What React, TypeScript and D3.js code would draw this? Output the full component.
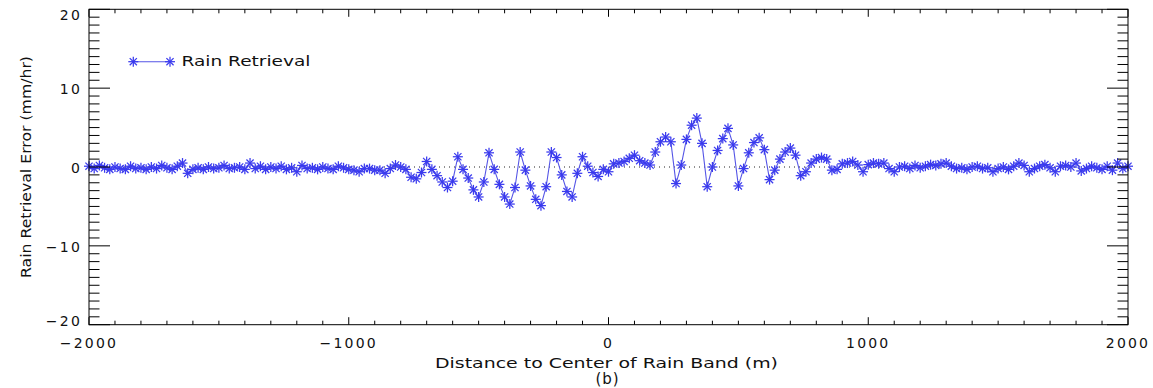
import React from "react";
import * as d3 from "d3";

// Retrieval error sampled every 20 m across the band.
const SAMPLE_START = -2000;
const SAMPLE_STEP = 20;

// -2000 m .. -1000 m
const leftTail = [
  0.1, -0.2, 0.2, -0.1, -0.3, 0.0, -0.2, -0.3, 0.1, -0.2,
  -0.1, -0.3, 0.0, -0.2, 0.2, -0.1, -0.3, 0.1, 0.5, -0.8,
  -0.3, -0.1, -0.3, 0.0, -0.2, -0.1, 0.2, -0.2, -0.1, 0.0,
  -0.3, 0.5, -0.2, 0.1, -0.3, 0.0, -0.2, 0.1, -0.3, -0.1,
  -0.6, 0.2, -0.2, -0.1, -0.3, 0.0, -0.2, -0.3, 0.1, -0.1,
  -0.3,
];

// -980 m .. 980 m
const bandCore = [
  -0.4, -0.6, -0.2, -0.2, -0.4, -0.4, -0.8, -0.2, 0.25, 0.0,
  -0.3, -1.3, -1.5, -0.7, 0.7, -0.3, -1.1, -1.9, -2.6, -1.8,
  1.3, -0.3, -1.4, -2.9, -3.8, -1.9, 1.8, -0.3, -2.2, -3.8,
  -4.7, -2.6, 1.9, -0.4, -2.4, -4.1, -4.9, -2.5, 1.9, 1.2,
  -1.0, -3.1, -3.8, -0.8, 1.3, 0.1, -0.7, -1.2, -0.3, -0.6,
  0.4, 0.5, 0.7, 1.1, 1.5, 0.8, 0.5, 0.25, 1.9, 3.2,
  3.8, 3.2, -2.1, 0.25, 3.5, 5.3, 6.2, 3.0, -2.5, 0.0,
  2.1, 3.6, 4.9, 2.8, -2.4, -0.2, 1.8, 3.1, 3.7, 2.2,
  -1.6, -0.4, 1.0, 1.9, 2.4, 1.5, -1.1, -0.6, 0.5, 1.0,
  1.2, 1.0, -0.4, -0.3, 0.4, 0.5, 0.7, 0.25, -0.6,
];

// 1000 m .. 2000 m
const rightTail = [
  0.3, 0.5, 0.4, 0.5, -0.2, -0.6, 0.0, 0.1, -0.2, 0.2,
  -0.1, 0.1, 0.3, 0.2, 0.4, 0.5, 0.1, -0.2, -0.1, -0.3,
  0.0, 0.1, -0.2, -0.1, -0.6, -0.2, 0.0, -0.3, 0.1, 0.5,
  0.2, -0.6, -0.2, 0.1, 0.3, -0.1, -0.6, 0.1, 0.2, 0.0,
  0.5, -0.5, -0.2, 0.1, -0.1, -0.3, 0.1, -0.4, 0.5, -0.2,
  0.1,
];

const errors = [...leftTail, ...bandCore, ...rightTail];
const distances = errors.map((_, i) => SAMPLE_START + i * SAMPLE_STEP);

const xTickValues = [-2000, -1000, 0, 1000, 2000];
const yTickValues = [-20, -10, 0, 10, 20];

const seriesName = "Rain Retrieval";
const xTitle = "Distance to Center of Rain Band (m)";
const yTitle = "Rain Retrieval Error (mm/hr)";
const panelTag = "(b)";

const W = 1153;
const H = 388;
const plot = { left: 89, right: 1128, top: 9.3, bottom: 324.7 };
const BLUE = "#3a3aee";
const LINE_BLUE = "#5555e6";
const FONT = "'DejaVu Sans', Verdana, sans-serif";

const fmt = (v: number) => (v < 0 ? "\u2212" + Math.abs(v) : String(v));

function Asterisk({ cx, cy, r = 5 }: { cx: number; cy: number; r?: number }) {
  const d = r * 0.72;
  return (
    <g stroke={BLUE} strokeWidth={1.25}>
      <line x1={cx - r} y1={cy} x2={cx + r} y2={cy} />
      <line x1={cx} y1={cy - r} x2={cx} y2={cy + r} />
      <line x1={cx - d} y1={cy - d} x2={cx + d} y2={cy + d} />
      <line x1={cx - d} y1={cy + d} x2={cx + d} y2={cy - d} />
    </g>
  );
}

export default function App() {
  const x = d3.scaleLinear().domain([-2000, 2000]).range([plot.left, plot.right]);
  const y = d3.scaleLinear().domain([-20, 20]).range([plot.bottom, plot.top]);

  const pts = distances.map((d, i) => [x(d), y(errors[i])] as [number, number]);
  const path = d3.line()(pts) || "";

  const xMinor = d3.range(-2000, 2001, 100);
  const yMinor = d3.range(-20, 21, 1);

  const xMajLen = 7.5, xMinLen = 4;
  const yMajLen = 21, yMinLen = 10.5;

  return (
    <div style={{ position: "absolute", left: 0, top: 0 }}>
      <svg width={W} height={H} style={{ display: "block", background: "#fff" }}>
        <rect x={0} y={0} width={W} height={H} fill="#fff" />

        {/* zero reference */}
        <line
          x1={plot.left}
          x2={plot.right}
          y1={y(0)}
          y2={y(0)}
          stroke="#222"
          strokeWidth={1}
          strokeDasharray="1 4"
        />

        {/* series */}
        <path d={path} fill="none" stroke={LINE_BLUE} strokeWidth={1.1} />
        {pts.map(([px, py], i) => (
          <Asterisk key={i} cx={px} cy={py} />
        ))}

        {/* frame */}
        <rect
          x={plot.left}
          y={plot.top}
          width={plot.right - plot.left}
          height={plot.bottom - plot.top}
          fill="none"
          stroke="#000"
          strokeWidth={1}
        />

        {/* x ticks, bottom and top */}
        {xMinor.map((v) => {
          const major = v % 1000 === 0;
          const len = major ? xMajLen : xMinLen;
          const px = x(v);
          return (
            <g key={"xt" + v} stroke="#000" strokeWidth={1}>
              <line x1={px} x2={px} y1={plot.bottom} y2={plot.bottom - len} />
              <line x1={px} x2={px} y1={plot.top} y2={plot.top + len} />
            </g>
          );
        })}

        {/* y ticks, left and right */}
        {yMinor.map((v) => {
          const major = v % 10 === 0;
          const len = major ? yMajLen : yMinLen;
          const py = y(v);
          return (
            <g key={"yt" + v} stroke="#000" strokeWidth={1}>
              <line x1={plot.left} x2={plot.left + len} y1={py} y2={py} />
              <line x1={plot.right} x2={plot.right - len} y1={py} y2={py} />
            </g>
          );
        })}

        {/* x tick labels */}
        {xTickValues.map((v) => (
          <text
            key={"xl" + v}
            x={x(v)}
            y={348}
            textAnchor="middle"
            fontFamily={FONT}
            fontSize={14}
            letterSpacing={2.2}
            fill="#111"
          >
            {fmt(v)}
          </text>
        ))}

        {/* y tick labels */}
        {yTickValues.map((v) => {
          const base = Math.min(Math.max(y(v) + 6, plot.top + 11), plot.bottom + 1);
          return (
            <text
              key={"yl" + v}
              x={82}
              y={base}
              textAnchor="end"
              fontFamily={FONT}
              fontSize={14}
              letterSpacing={2.2}
              fill="#111"
            >
              {fmt(v)}
            </text>
          );
        })}

        {/* axis titles */}
        <text
          x={606.5}
          y={368}
          textAnchor="middle"
          fontFamily={FONT}
          fontSize={14.5}
          textLength={343}
          lengthAdjust="spacingAndGlyphs"
          fill="#111"
        >
          {xTitle}
        </text>
        <text
          x={607.5}
          y={383.5}
          textAnchor="middle"
          fontFamily={FONT}
          fontSize={15}
          letterSpacing={1}
          fill="#111"
        >
          {panelTag}
        </text>
        <text
          transform={`translate(31,${(plot.top + plot.bottom) / 2}) rotate(-90)`}
          textAnchor="middle"
          fontFamily={FONT}
          fontSize={14}
          textLength={222}
          lengthAdjust="spacingAndGlyphs"
          fill="#111"
        >
          {yTitle}
        </text>

        {/* legend */}
        <line x1={133.3} x2={170} y1={61.7} y2={61.7} stroke={LINE_BLUE} strokeWidth={1.1} />
        <Asterisk cx={133.3} cy={61.7} />
        <Asterisk cx={170} cy={61.7} />
        <text
          x={181.5}
          y={66}
          fontFamily={FONT}
          fontSize={14.5}
          textLength={129}
          lengthAdjust="spacingAndGlyphs"
          fill="#111"
        >
          {seriesName}
        </text>
      </svg>
    </div>
  );
}
